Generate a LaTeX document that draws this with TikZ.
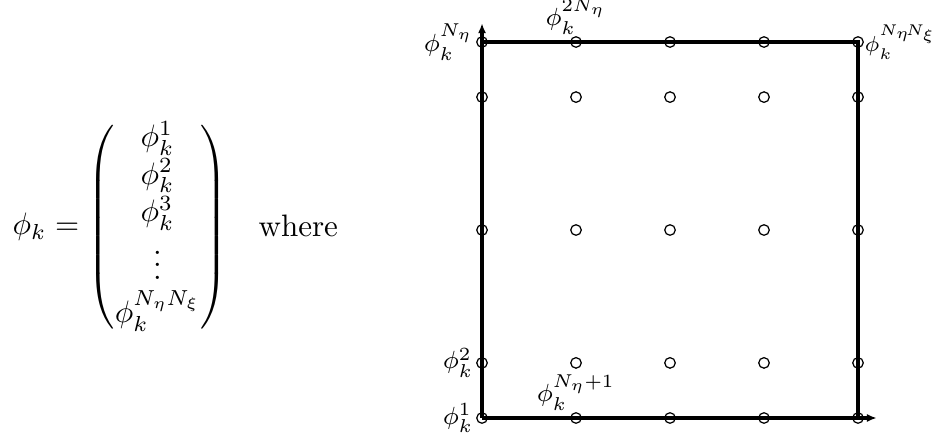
\documentclass[tikz,border=0pt]{standalone}
\usepackage{amsmath,amssymb}
\usetikzlibrary{arrows.meta,positioning}

\begin{document}
\begin{tikzpicture}[x=30.3pt,y=30.3pt,
  gllpt/.style={circle,draw,line width=0.4pt,inner sep=0pt,minimum size=3.4pt},
  frameline/.style={line width=1pt},
  philab/.style={font=\fontsize{8.5}{10}\selectfont,inner sep=0.8pt}]
\useasboundingbox (-5.128,-0.213) rectangle (4.798,4.447);

% the vector
\node[anchor=west,inner sep=0pt] (vec) at (-5.0,2.03)
  {$\phi_k=\begin{pmatrix}\phi_k^1\\ \phi_k^2\\ \phi_k^3\\ \vdots\\ \phi_k^{N_\eta N_\xi}\end{pmatrix}$};
\node[anchor=base west,inner sep=0pt] (where) at (-2.383,1.926) {where};

% Gauss-Lobatto points
\foreach \i in {0,...,4}
  \foreach \j/\y in {0/0,1/0.586,2/2,3/3.414,4/4}
    \node[gllpt] (p\i\j) at (\i,\y) {};

% axes and frame
\coordinate (xend) at (4.2,0);
\coordinate (yend) at (0,4.2);
\draw[frameline,-{Latex[length=3.2pt,width=2.6pt]}] (p00.center) -- (xend);
\draw[frameline,-{Latex[length=3.2pt,width=2.6pt]}] (p00.center) -- (yend);
\draw[frameline] (p04.center) -- (p44.center) -- (p40.center);

% labels
\node[philab,left=0pt of p00] (l00) {$\phi_k^1$};
\node[philab,left=0pt of p01] (l01) {$\phi_k^2$};
\node[philab,left=0pt of p04] (l04) {$\phi_k^{N_\eta}$};
\node[philab,above=0pt of p10,inner sep=0.3pt] (l10) {$\phi_k^{N_\eta+1}$};
\node[philab,above=0pt of p14,inner sep=0.3pt] (l14) {$\phi_k^{2N_\eta}$};
\node[philab,font=\fontsize{7.3}{9}\selectfont,right=0pt of p44,inner sep=0pt]
  (l44) {$\phi_k^{N_\eta\!N_\xi}$};
\end{tikzpicture}
\end{document}
